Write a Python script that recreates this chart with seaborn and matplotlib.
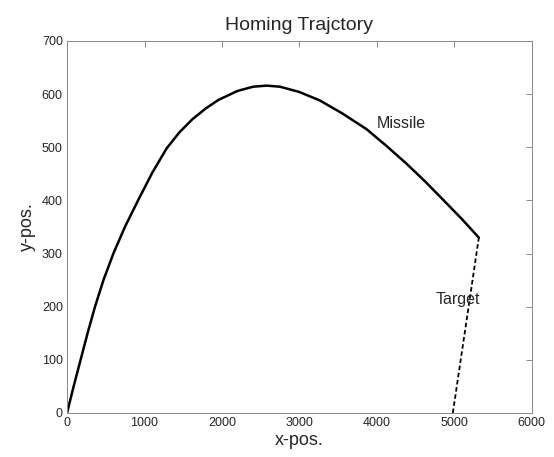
import pandas as pd
import seaborn as sns
import matplotlib.pyplot as plt

# values
missile_x = [0, 85, 175, 265, 361, 470, 598, 750, 920, 1100, 1286, 1450, 1620, 1790, 1953,
             2200, 2404, 2577, 2748, 3000, 3265, 3550, 3867, 4120, 4383, 4620, 4856, 5090, 5316]
missile_y = [0, 50, 100, 150, 200, 250, 300, 351, 401, 452, 498, 528, 553, 573, 589,
             606, 614, 616, 614, 604, 588, 564, 534, 503, 469, 436, 401, 366, 330]
target_x = [4980, 5316]
target_y = [0, 330]

x_ticks = [0, 1000, 2000, 3000, 4000, 5000, 6000]
y_ticks = [0, 100, 200, 300, 400, 500, 600, 700]

missile = pd.DataFrame({'x': missile_x, 'y': missile_y})
target = pd.DataFrame({'x': target_x, 'y': target_y})

sns.set_style('white')
plt.rcParams['font.family'] = ['Liberation Sans', 'DejaVu Sans']

fig = plt.figure(figsize=(5.54, 4.57), dpi=100)
ax = fig.add_axes([0.121, 0.0963, 0.839, 0.814])

sns.lineplot(data=missile, x='x', y='y', sort=False, color='black', linewidth=1.8, ax=ax)
sns.lineplot(data=target, x='x', y='y', sort=False, color='black', linewidth=1.3,
             linestyle=(0, (2.5, 1.5)), ax=ax)

ax.text(4000, 545, 'Missile', fontsize=11.5, va='center', ha='left')
ax.text(4760, 213, 'Target', fontsize=11.5, va='center', ha='left')

ax.set_xlim(0, 6000)
ax.set_ylim(0, 700)
ax.set_xticks(x_ticks)
ax.set_yticks(y_ticks)
ax.tick_params(direction='in', length=4, width=0.6, color='#777777', labelsize=9,
               top=True, right=True, pad=3)
for s in ax.spines.values():
    s.set_color('#888888')
    s.set_linewidth(0.7)

ax.set_title('Homing Trajctory', fontsize=14, pad=8)
ax.set_xlabel('x-pos.', fontsize=13, labelpad=2)
ax.set_ylabel('y-pos.', fontsize=13, labelpad=4)

fig.savefig('out.png', dpi=100)
